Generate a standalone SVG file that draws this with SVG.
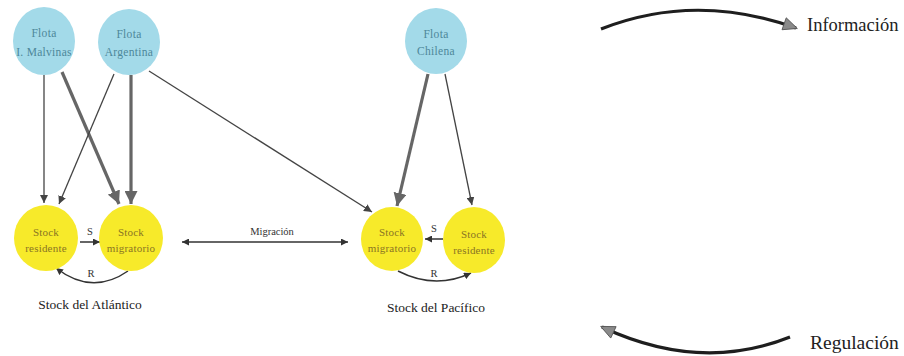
<svg xmlns="http://www.w3.org/2000/svg" width="904" height="356" viewBox="0 0 904 356">
<defs>
<style>
.fleet{fill:#a3dae9;}
.stock{fill:#f7ea2a;}
.ft{font-family:"Liberation Serif","DejaVu Serif",serif;font-size:11.5px;letter-spacing:0.3px;fill:#4d8799;text-anchor:middle;}
.st{font-family:"Liberation Serif","DejaVu Serif",serif;font-size:11px;letter-spacing:0.2px;fill:#8a7524;text-anchor:middle;}
.lbl{font-family:"Liberation Serif","DejaVu Serif",serif;font-size:10.5px;fill:#333;text-anchor:middle;}
.cap{font-family:"Liberation Serif","DejaVu Serif",serif;font-size:13.5px;fill:#222;text-anchor:middle;}
.leg{font-family:"Liberation Serif","DejaVu Serif",serif;font-size:18.5px;fill:#222;}
.thin{stroke:#444;stroke-width:1.3;fill:none;marker-end:url(#ah);}
.thick{stroke:#666;stroke-width:3.2;fill:none;marker-end:url(#ahb);}
.small{stroke:#333;stroke-width:1.5;fill:none;marker-end:url(#ahs);}
.legarc{stroke:#1e1e1e;stroke-width:3.2;fill:none;marker-end:url(#ahl);}
</style>
<marker id="ah" viewBox="0 0 10 10" refX="10" refY="5" markerWidth="8" markerHeight="8" markerUnits="userSpaceOnUse" orient="auto"><path d="M0,0 L10,5 L0,10 z" fill="#444"/></marker>
<marker id="ahs" viewBox="0 0 10 10" refX="10" refY="5" markerWidth="7" markerHeight="7" markerUnits="userSpaceOnUse" orient="auto"><path d="M0,0 L10,5 L0,10 z" fill="#333"/></marker>
<marker id="ahst" viewBox="0 0 10 10" refX="0" refY="5" markerWidth="7" markerHeight="7" markerUnits="userSpaceOnUse" orient="auto"><path d="M10,0 L0,5 L10,10 z" fill="#333"/></marker>
<marker id="ahb" viewBox="0 0 10 10" refX="10" refY="5" markerWidth="13" markerHeight="13" markerUnits="userSpaceOnUse" orient="auto"><path d="M0,0 L10,5 L0,10 z" fill="#666"/></marker>
<marker id="ahl" viewBox="0 0 10 10" refX="9" refY="5" markerWidth="16" markerHeight="14" markerUnits="userSpaceOnUse" orient="auto"><path d="M0,0.5 L10,5 L0,9.5 z" fill="#8a8a8a" stroke="#555" stroke-width="0.6"/></marker>
</defs>
<rect width="904" height="356" fill="#ffffff"/>

<g id="connectors">
<line class="thin" x1="44" y1="75" x2="44" y2="203"/>
<line class="thick" x1="62" y1="72" x2="119" y2="204"/>
<line class="thin" x1="114" y1="74" x2="59" y2="204"/>
<line class="thick" x1="131" y1="75" x2="131" y2="204"/>
<line class="thin" x1="149" y1="71" x2="372" y2="212"/>
<line class="thick" x1="428" y1="74" x2="397" y2="206"/>
<line class="thin" x1="445" y1="74" x2="472" y2="205"/>
<line class="small" x1="80" y1="242" x2="100" y2="242"/>
<path class="small" d="M128,271 Q92,296 56,268"/>
<line class="small" x1="443" y1="239" x2="425" y2="239"/>
<path class="small" d="M398,271 Q435,290 471,273"/>
<line class="small" x1="182" y1="242" x2="348" y2="242" style="marker-start:url(#ahst)"/>
<path class="legarc" d="M601,29 Q695,-8 796,28"/>
<path class="legarc" d="M790,337 Q700,373 602,327"/>
</g>

<g id="flota-malvinas">
<ellipse class="fleet" cx="44" cy="41" rx="31" ry="34"/>
<text class="ft" x="44" y="37">Flota</text>
<text class="ft" x="44" y="56">I. Malvinas</text>
</g>
<g id="flota-argentina">
<ellipse class="fleet" cx="129" cy="42" rx="31" ry="33"/>
<text class="ft" x="129" y="38">Flota</text>
<text class="ft" x="129" y="56">Argentina</text>
</g>
<g id="flota-chilena">
<ellipse class="fleet" cx="436" cy="41" rx="31" ry="33"/>
<text class="ft" x="436" y="38">Flota</text>
<text class="ft" x="436" y="55">Chilena</text>
</g>

<g id="stock-residente-atl">
<ellipse class="stock" cx="46" cy="238" rx="32" ry="33"/>
<text class="st" x="46" y="236">Stock</text>
<text class="st" x="46" y="252">residente</text>
</g>
<g id="stock-migratorio-atl">
<ellipse class="stock" cx="131" cy="238" rx="32" ry="33"/>
<text class="st" x="131" y="236">Stock</text>
<text class="st" x="131" y="252">migratorio</text>
</g>
<g id="stock-migratorio-pac">
<ellipse class="stock" cx="392" cy="239" rx="31" ry="32"/>
<text class="st" x="392" y="236">Stock</text>
<text class="st" x="392" y="252">migratorio</text>
</g>
<g id="stock-residente-pac">
<ellipse class="stock" cx="474" cy="240" rx="31" ry="33"/>
<text class="st" x="474" y="238">Stock</text>
<text class="st" x="474" y="254">residente</text>
</g>

<g id="labels">
<text class="lbl" x="90" y="235">S</text>
<text class="lbl" x="91" y="277">R</text>
<text class="lbl" x="434" y="232">S</text>
<text class="lbl" x="434" y="277">R</text>
<text class="lbl" x="272" y="235">Migración</text>
<text class="cap" x="90" y="309">Stock del Atlántico</text>
<text class="cap" x="436" y="312">Stock del Pacífico</text>
</g>

<g id="legend">
<text class="leg" x="807" y="31">Información</text>
<text class="leg" x="810" y="349" style="font-size:19.5px">Regulación</text>
</g>
</svg>
